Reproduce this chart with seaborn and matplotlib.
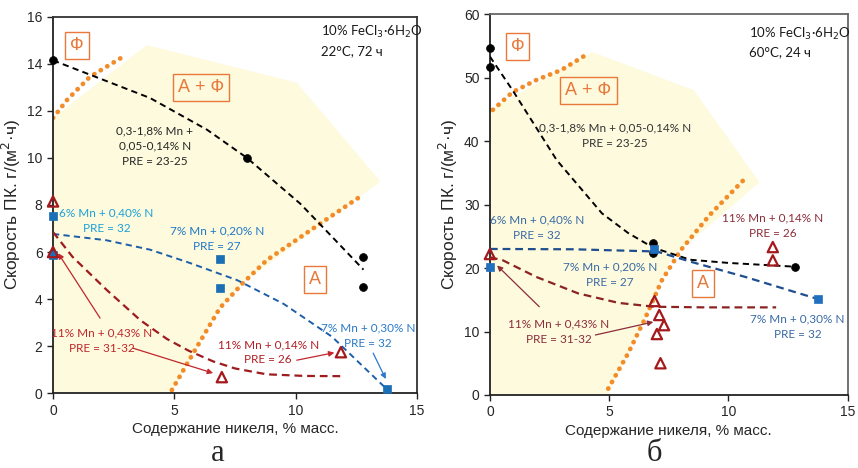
import seaborn as sns
import matplotlib.pyplot as plt

# ---------- панель а: 10% FeCl3, 22°C, 72 ч ----------
a_blk_x = [0, 8.0, 12.8, 12.8]
a_blk_y = [14.15, 10.0, 5.8, 4.5]
a_blu_x = [0, 0, 6.88, 6.88, 13.76]
a_blu_y = [7.53, 5.87, 5.7, 4.47, 0.17]
a_red_x = [0, 0, 6.96, 11.87]
a_red_y = [8.15, 6.0, 0.68, 1.74]

# линии тренда (точки)
a_blk_tx = [0, 1.5, 4.0, 6.35, 8.0, 10.2, 11.55, 12.8]
a_blk_ty = [14.15, 13.55, 12.55, 11.2, 10.0, 8.05, 6.6, 5.25]
a_blu_tx = [0, 2.2, 4.0, 5.6, 7.6, 9.5, 11.5, 13.76]
a_blu_ty = [6.77, 6.5, 6.1, 5.55, 4.8, 3.8, 2.4, 0.17]
a_red_tx = [0, 0.8, 2.2, 3.6, 4.7, 5.6, 6.6, 7.5, 8.8, 10.4, 12.0]
a_red_ty = [6.85, 5.8, 4.4, 3.1, 2.3, 1.8, 1.35, 1.05, 0.8, 0.73, 0.72]

# границы фазовых областей
a_fa_x = [0, 0.58, 1.52, 2.88]
a_fa_y = [11.7, 12.47, 13.45, 14.3]
a_aus_x = [4.9, 5.93, 6.88, 7.83, 8.82, 11.12, 12.77]
a_aus_y = [0.13, 1.96, 3.62, 4.68, 5.66, 7.28, 8.43]
a_zone_x = [0, 3.87, 10.05, 13.5, 7.83, 6.88, 5.93, 4.9, 0]
a_zone_y = [11.7, 14.8, 13.2, 9.0, 4.68, 3.62, 1.96, 0, 0]

# ---------- панель б: 10% FeCl3, 60°C, 24 ч ----------
b_blk_x = [0, 0, 6.82, 6.82, 12.8]
b_blk_y = [54.6, 51.7, 23.9, 22.4, 20.2]
b_blu_x = [0, 6.9, 13.76]
b_blu_y = [20.2, 23.0, 15.1]
b_red_x = [0, 6.9, 7.1, 7.3, 7.0, 7.15, 11.86, 11.86]
b_red_y = [22.2, 14.8, 12.6, 11.0, 9.6, 5.0, 23.3, 21.2]

b_blk_tx = [0, 0.95, 2.8, 4.7, 5.8, 6.85, 8.4, 10.0, 11.9, 12.8]
b_blk_ty = [53.3, 48.0, 37.0, 28.6, 25.5, 23.2, 21.3, 20.8, 20.4, 20.2]
b_blu_tx = [0, 3.5, 7.0, 8.5, 10.7, 13.76]
b_blu_ty = [23.0, 22.95, 22.6, 20.9, 18.6, 15.1]
b_red_tx = [0, 0.55, 1.94, 3.7, 5.4, 6.9, 9.0, 12.0]
b_red_ty = [21.7, 21.2, 18.6, 16.0, 14.5, 13.9, 13.8, 13.8]

b_fa_x = [0.12, 0.95, 1.94, 3.0, 4.13]
b_fa_y = [44.9, 47.7, 49.6, 51.2, 53.8]
b_aus_x = [4.96, 5.8, 6.5, 7.2, 8.0, 9.2, 10.8]
b_aus_y = [1.0, 6.6, 12.0, 18.0, 22.8, 28.3, 34.5]
b_zone_x = [0, 4.3, 8.55, 11.3, 7.6, 7.2, 6.5, 5.8, 4.96, 0]
b_zone_y = [44.9, 54.0, 48.0, 33.5, 21.5, 18.0, 12.0, 6.6, 0, 0]

sns.set_style('white')
plt.rcParams['font.family'] = ['Liberation Sans', 'DejaVu Sans']
NARROW = ['Lato', 'Liberation Sans', 'DejaVu Sans']

YELLOW = '#fdfadd'
ORANGE = '#f28c28'
PH = '#e8793a'

fig = plt.figure(figsize=(8.58, 4.68), dpi=100)
ax1 = fig.add_axes([0.0618, 0.160, 0.424, 0.804])
ax2 = fig.add_axes([0.571, 0.156, 0.417, 0.814])


def phases(ax, zx, zy, fx, fy, ax_, ay_):
    ax.fill(zx, zy, color=YELLOW, lw=0, zorder=0)
    for xx, yy in ((fx, fy), (ax_, ay_)):
        sns.lineplot(x=xx, y=yy, ax=ax, sort=False, estimator=None, color=ORANGE,
                     lw=3.4, linestyle=(0, (0.05, 1.55)), dash_capstyle='round', zorder=2)


def trend(ax, x, y, color, lw, dash):
    sns.lineplot(x=x, y=y, ax=ax, sort=False, estimator=None, color=color,
                 lw=lw, linestyle=(0, dash), zorder=3)


def phase_box(ax, x, y, s):
    ax.text(x, y, s, ha='center', va='center', fontsize=13, color=PH, zorder=5,
            bbox=dict(boxstyle='square,pad=0.28', fc='none', ec=PH, lw=1.0))


def label(ax, x, y, s, color, fs=8.5):
    ax.text(x, y, s, ha='center', va='center', fontsize=fs, color=color,
            family=NARROW, linespacing=1.5, zorder=5)


def arrow(ax, xy_from, xy_to, color):
    ax.annotate('', xy=xy_to, xytext=xy_from,
                arrowprops=dict(arrowstyle='-|>', color=color, lw=0.9,
                                mutation_scale=8, shrinkA=0, shrinkB=0), zorder=5)


# ---- панель а ----
phases(ax1, a_zone_x, a_zone_y, a_fa_x, a_fa_y, a_aus_x, a_aus_y)
trend(ax1, a_blk_tx, a_blk_ty, 'black', 1.4, (3.2, 2.2))
trend(ax1, a_blu_tx, a_blu_ty, '#1d5fa8', 1.4, (3.2, 2.2))
trend(ax1, a_red_tx, a_red_ty, '#9e1b1e', 1.6, (3.5, 2.2))
sns.scatterplot(x=a_blk_x, y=a_blk_y, ax=ax1, color='black', s=32, marker='o',
                edgecolor='black', linewidth=0.5, clip_on=False, zorder=6)
sns.scatterplot(x=a_blu_x, y=a_blu_y, ax=ax1, color='#1a6fb5', s=30, marker='s',
                edgecolor='#1a6fb5', linewidth=0.5, clip_on=False, zorder=6)
sns.scatterplot(x=a_red_x, y=a_red_y, ax=ax1, s=55, marker='^', facecolor='none',
                edgecolor='#a3191c', linewidth=1.6, clip_on=False, zorder=7)

phase_box(ax1, 0.99, 14.8, 'Ф')
phase_box(ax1, 6.1, 13.0, 'А + Ф')
phase_box(ax1, 10.8, 4.85, 'А')
label(ax1, 4.2, 10.5, '0,3-1,8% Mn +\n0,05-0,14% N\nPRE = 23-25', '#262626')
label(ax1, 2.2, 7.32, '6% Mn + 0,40% N\nPRE = 32', '#1ba1d8')
label(ax1, 6.75, 6.58, '7% Mn + 0,20% N\nPRE = 27', '#1f78c8')
label(ax1, 13.0, 2.45, '7% Mn + 0,30% N\nPRE = 32', '#2a7ac8')
label(ax1, 2.0, 2.21, '11% Mn + 0,43% N\nPRE = 31-32', '#c1272d')
label(ax1, 8.87, 1.74, '11% Mn + 0,14% N\nPRE = 26', '#b01f24')
ax1.text(11.05, 15.7, '10% FeCl$_3$·6H$_2$O\n22°C, 72 ч', ha='left', va='top',
         fontsize=9.5, family=NARROW, linespacing=1.5, color='#1a1a1a')
arrow(ax1, (1.94, 3.19), (0.21, 5.95), '#c1272d')
arrow(ax1, (3.3, 1.91), (6.6, 0.85), '#c1272d')
arrow(ax1, (10.05, 1.4), (11.6, 1.72), '#c1272d')
arrow(ax1, (13.2, 1.7), (13.72, 0.6), '#2a7ac8')

ax1.set_xlim(0, 15)
ax1.set_ylim(0, 16)
ax1.set_xticks([0, 5, 10, 15])
ax1.set_yticks(range(0, 17, 2))

# ---- панель б ----
phases(ax2, b_zone_x, b_zone_y, b_fa_x, b_fa_y, b_aus_x, b_aus_y)
trend(ax2, b_blk_tx, b_blk_ty, 'black', 1.4, (3.2, 2.2))
trend(ax2, b_blu_tx, b_blu_ty, '#1f4e8f', 1.6, (3.5, 2.2))
trend(ax2, b_red_tx, b_red_ty, '#8c2323', 1.6, (3.5, 2.2))
sns.scatterplot(x=b_blk_x, y=b_blk_y, ax=ax2, color='black', s=32, marker='o',
                edgecolor='black', linewidth=0.5, clip_on=False, zorder=6)
sns.scatterplot(x=b_blu_x, y=b_blu_y, ax=ax2, color='#2170c0', s=30, marker='s',
                edgecolor='#2170c0', linewidth=0.5, clip_on=False, zorder=6)
sns.scatterplot(x=b_red_x, y=b_red_y, ax=ax2, s=55, marker='^', facecolor='none',
                edgecolor='#a3191c', linewidth=1.6, clip_on=False, zorder=7)

phase_box(ax2, 1.16, 54.9, 'Ф')
phase_box(ax2, 4.13, 48.0, 'А + Ф')
phase_box(ax2, 8.93, 17.5, 'А')
label(ax2, 5.25, 40.9, '0,3-1,8% Mn + 0,05-0,14% N\nPRE = 23-25', '#333333')
label(ax2, 1.98, 26.4, '6% Mn + 0,40% N\nPRE = 32', '#3a6aa5')
label(ax2, 5.04, 19.0, '7% Mn + 0,20% N\nPRE = 27', '#3a6aa5')
label(ax2, 11.86, 26.7, '11% Mn + 0,14% N\nPRE = 26', '#8b2e3a')
label(ax2, 12.9, 10.8, '7% Mn + 0,30% N\nPRE = 32', '#3a6aa5')
label(ax2, 2.9, 10.0, '11% Mn + 0,43% N\nPRE = 31-32', '#8b2e3a')
ax2.text(10.87, 58.2, '10% FeCl$_3$·6H$_2$O\n60°C, 24 ч', ha='left', va='top',
         fontsize=9.5, family=NARROW, linespacing=1.5, color='#1a1a1a')
arrow(ax2, (2.07, 13.9), (0.3, 20.4), '#8b2e3a')
arrow(ax2, (4.42, 9.45), (6.85, 11.5), '#8b2e3a')

ax2.set_xlim(0, 15)
ax2.set_ylim(0, 60)
ax2.set_xticks([0, 5, 10, 15])
ax2.set_yticks(range(0, 61, 10))

for ax, sc in ((ax1, '#333333'), (ax2, '#666666')):
    for sp in ax.spines.values():
        sp.set_visible(True)
        sp.set_color(sc)
        sp.set_linewidth(1.3)
    ax.spines['left'].set_color('#222222')
    ax.spines['bottom'].set_color('#222222')
    ax.tick_params(axis='both', direction='out', length=4, width=1.0,
                   labelsize=10, color='#222222', left=True, bottom=True)
    ax.set_xlabel('Содержание никеля, % масс.', fontsize=11, labelpad=3)
    ax.set_ylabel('Скорость ПК. г/(м$^2$·ч)', fontsize=12.5, labelpad=3)
    ax.set_facecolor('white')

fig.text(218 / 858, 0.0, 'а', ha='center', va='bottom', fontsize=22,
         family=['Liberation Serif', 'DejaVu Serif'])
fig.text(654 / 858, 0.0, 'б', ha='center', va='bottom', fontsize=22,
         family=['Liberation Serif', 'DejaVu Serif'])

fig.savefig('out.png', dpi=100)
